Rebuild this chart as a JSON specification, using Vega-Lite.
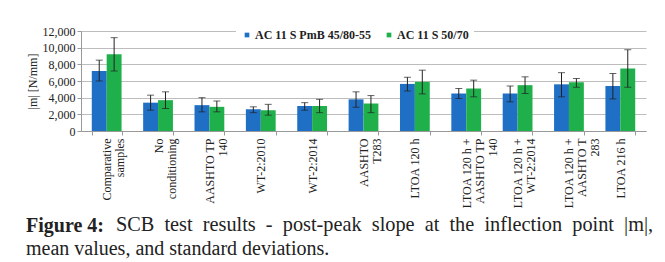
{
  "$schema": "https://vega.github.io/schema/vega-lite/v6.json",
  "padding": {"left": 26, "top": 24, "right": 0, "bottom": 5},
  "background": "white",
  "config": {"font": "Liberation Serif", "view": {"stroke": null}, "axis": {"labelFont": "Liberation Serif", "titleFont": "Liberation Serif"}, "legend": {"labelFont": "Liberation Serif"}},
  "title": {"text": "SCB \u00a0test \u00a0results \u00a0- \u00a0post-peak \u00a0slope \u00a0at \u00a0the \u00a0inflection \u00a0point \u00a0|m|,", "orient": "bottom", "anchor": "start", "frame": "bounds", "dx": 90, "offset": -44, "fontSize": 20.3, "fontWeight": "normal", "font": "Liberation Serif", "color": "#222"},
  "vconcat": [
    {
      "width": 565,
      "height": 100,
      "title": {"text": "Figure 4:", "subtitle": "mean values, and standard deviations.", "orient": "bottom", "anchor": "start", "frame": "bounds", "offset": 8, "fontSize": 20, "fontWeight": "bold", "font": "Liberation Serif", "color": "#222", "subtitleFontSize": 20, "subtitleFont": "Liberation Serif", "subtitleColor": "#222", "subtitlePadding": 3},
      "data": {"values": [
        {"condition": "Comparative samples", "binder": "AC 11 S PmB 45/80-55", "mean": 7200, "lo": 6000, "hi": 8500},
        {"condition": "Comparative samples", "binder": "AC 11 S 50/70", "mean": 9200, "lo": 7200, "hi": 11200},
        {"condition": "No conditioning", "binder": "AC 11 S PmB 45/80-55", "mean": 3400, "lo": 2500, "hi": 4300},
        {"condition": "No conditioning", "binder": "AC 11 S 50/70", "mean": 3700, "lo": 2700, "hi": 4700},
        {"condition": "AASHTO TP 140", "binder": "AC 11 S PmB 45/80-55", "mean": 3100, "lo": 2300, "hi": 4000},
        {"condition": "AASHTO TP 140", "binder": "AC 11 S 50/70", "mean": 2900, "lo": 2300, "hi": 3600},
        {"condition": "WT-2:2010", "binder": "AC 11 S PmB 45/80-55", "mean": 2600, "lo": 2200, "hi": 2900},
        {"condition": "WT-2:2010", "binder": "AC 11 S 50/70", "mean": 2500, "lo": 1900, "hi": 3200},
        {"condition": "WT-2:2014", "binder": "AC 11 S PmB 45/80-55", "mean": 3000, "lo": 2500, "hi": 3400},
        {"condition": "WT-2:2014", "binder": "AC 11 S 50/70", "mean": 3000, "lo": 2200, "hi": 3800},
        {"condition": "AASHTO T283", "binder": "AC 11 S PmB 45/80-55", "mean": 3800, "lo": 2850, "hi": 4700},
        {"condition": "AASHTO T283", "binder": "AC 11 S 50/70", "mean": 3300, "lo": 2200, "hi": 4250},
        {"condition": "LTOA 120 h", "binder": "AC 11 S PmB 45/80-55", "mean": 5650, "lo": 4800, "hi": 6450},
        {"condition": "LTOA 120 h", "binder": "AC 11 S 50/70", "mean": 5900, "lo": 4450, "hi": 7300},
        {"condition": "LTOA 120 h + AASHTO TP 140", "binder": "AC 11 S PmB 45/80-55", "mean": 4500, "lo": 3900, "hi": 5100},
        {"condition": "LTOA 120 h + AASHTO TP 140", "binder": "AC 11 S 50/70", "mean": 5100, "lo": 4100, "hi": 6100},
        {"condition": "LTOA 120 h + WT-2:2014", "binder": "AC 11 S PmB 45/80-55", "mean": 4500, "lo": 3500, "hi": 5400},
        {"condition": "LTOA 120 h + WT-2:2014", "binder": "AC 11 S 50/70", "mean": 5500, "lo": 4500, "hi": 6500},
        {"condition": "LTOA 120 h + AASHTO T 283", "binder": "AC 11 S PmB 45/80-55", "mean": 5600, "lo": 4100, "hi": 7000},
        {"condition": "LTOA 120 h + AASHTO T 283", "binder": "AC 11 S 50/70", "mean": 5850, "lo": 5250, "hi": 6300},
        {"condition": "LTOA 216 h", "binder": "AC 11 S PmB 45/80-55", "mean": 5400, "lo": 3850, "hi": 6900},
        {"condition": "LTOA 216 h", "binder": "AC 11 S 50/70", "mean": 7500, "lo": 5250, "hi": 9750}
      ]},
      "encoding": {
        "x": {"field": "condition", "type": "nominal", "sort": null,
          "scale": {"paddingInner": 0.42, "paddingOuter": 0.21},
          "axis": {"title": null, "labelAngle": -90, "labelFont": "Liberation Serif", "labelFontSize": 12, "labelColor": "#222", "labelLineHeight": 13, "labelPadding": 3, "tickBand": "extent", "tickSize": 4, "domainColor": "#999", "tickColor": "#999", "labelLimit": 200,
            "labelExpr": "datum.value == 'Comparative samples' ? ['Comparative', 'samples'] : datum.value == 'No conditioning' ? ['No', 'conditioning'] : datum.value == 'AASHTO TP 140' ? ['AASHTO TP', '140'] : datum.value == 'AASHTO T283' ? ['AASHTO', 'T283'] : datum.value == 'LTOA 120 h + AASHTO TP 140' ? ['LTOA 120 h +', 'AASHTO TP', '140'] : datum.value == 'LTOA 120 h + WT-2:2014' ? ['LTOA 120 h +', 'WT-2:2014'] : datum.value == 'LTOA 120 h + AASHTO T 283' ? ['LTOA 120 h +', 'AASHTO T', '283'] : datum.value"}},
        "xOffset": {"field": "binder", "type": "nominal", "sort": ["AC 11 S PmB 45/80-55", "AC 11 S 50/70"]}
      },
      "layer": [
        {
          "mark": {"type": "bar"},
          "encoding": {
            "y": {"field": "mean", "type": "quantitative", "scale": {"domain": [0, 12000], "nice": false},
              "axis": {"title": "|m| [N/mm]", "titleFont": "Liberation Serif", "titleFontWeight": "normal", "titleFontSize": 12, "titleColor": "#222", "labelFont": "Liberation Serif", "labelFontSize": 12, "labelColor": "#222", "values": [0, 2000, 4000, 6000, 8000, 10000, 12000], "format": ",.0f", "gridColor": "#bdbdbd", "domainColor": "#999", "tickColor": "#999", "tickSize": 4, "titlePadding": 3}},
            "color": {"field": "binder", "type": "nominal", "sort": ["AC 11 S PmB 45/80-55", "AC 11 S 50/70"],
              "scale": {"range": ["#1f6fc5", "#1fb04b"]},
              "legend": {"orient": "none", "legendX": 155, "legendY": -7, "direction": "horizontal", "title": null, "fillColor": "white", "padding": 5, "labelFont": "Liberation Serif", "labelFontSize": 12, "labelFontWeight": "bold", "labelColor": "#222", "labelOffset": 2, "symbolType": "square", "symbolSize": 22, "symbolStrokeWidth": 0, "columnPadding": 11, "labelLimit": 300}}
          }
        },
        {
          "mark": {"type": "rule", "color": "#222"},
          "encoding": {
            "y": {"field": "lo", "type": "quantitative", "scale": {"domain": [0, 12000], "nice": false},
              "axis": {"title": "|m| [N/mm]", "titleFont": "Liberation Serif", "titleFontWeight": "normal", "titleFontSize": 12, "titleColor": "#222", "labelFont": "Liberation Serif", "labelFontSize": 12, "labelColor": "#222", "values": [0, 2000, 4000, 6000, 8000, 10000, 12000], "format": ",.0f", "gridColor": "#bdbdbd", "domainColor": "#999", "tickColor": "#999", "tickSize": 4, "titlePadding": 3}},
            "y2": {"field": "hi"}
          }
        },
        {
          "mark": {"type": "tick", "color": "#222", "size": 7, "thickness": 1},
          "encoding": {
            "y": {"field": "lo", "type": "quantitative", "scale": {"domain": [0, 12000], "nice": false},
              "axis": {"title": "|m| [N/mm]", "titleFont": "Liberation Serif", "titleFontWeight": "normal", "titleFontSize": 12, "titleColor": "#222", "labelFont": "Liberation Serif", "labelFontSize": 12, "labelColor": "#222", "values": [0, 2000, 4000, 6000, 8000, 10000, 12000], "format": ",.0f", "gridColor": "#bdbdbd", "domainColor": "#999", "tickColor": "#999", "tickSize": 4, "titlePadding": 3}}
          }
        },
        {
          "mark": {"type": "tick", "color": "#222", "size": 7, "thickness": 1},
          "encoding": {
            "y": {"field": "hi", "type": "quantitative", "scale": {"domain": [0, 12000], "nice": false},
              "axis": {"title": "|m| [N/mm]", "titleFont": "Liberation Serif", "titleFontWeight": "normal", "titleFontSize": 12, "titleColor": "#222", "labelFont": "Liberation Serif", "labelFontSize": 12, "labelColor": "#222", "values": [0, 2000, 4000, 6000, 8000, 10000, 12000], "format": ",.0f", "gridColor": "#bdbdbd", "domainColor": "#999", "tickColor": "#999", "tickSize": 4, "titlePadding": 3}}
          }
        }
      ]
    }
  ]
}
